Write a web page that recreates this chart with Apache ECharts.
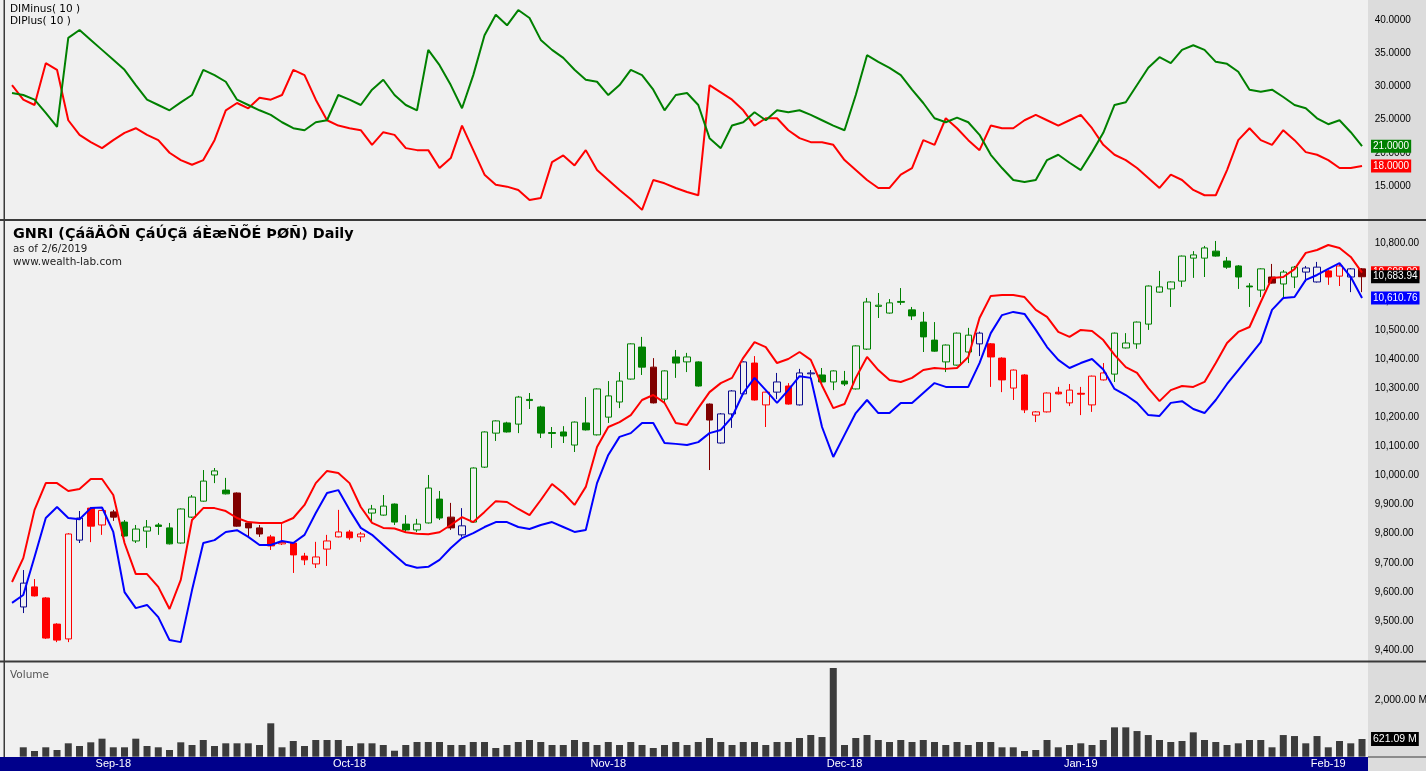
<!DOCTYPE html>
<html>
<head>
<meta charset="utf-8">
<title>GNRI Daily</title>
<script src="https://cdn.jsdelivr.net/npm/echarts/dist/echarts.min.js"></script>
<style>
html,body{margin:0;padding:0;background:#dcdcdc;overflow:hidden;}
#chart{width:1426px;height:771px;}
</style>
</head>
<body>
<div id="chart"></div>
<script>
// ---------------- DATA ----------------
const dates = [
"2018-08-13","2018-08-14","2018-08-15","2018-08-16","2018-08-26","2018-08-27","2018-08-28","2018-08-29","2018-08-30",
"2018-09-02","2018-09-03","2018-09-04","2018-09-05","2018-09-06","2018-09-09","2018-09-10","2018-09-11","2018-09-12","2018-09-13","2018-09-16","2018-09-17","2018-09-18","2018-09-19","2018-09-20","2018-09-23","2018-09-24","2018-09-25","2018-09-26","2018-09-27","2018-09-30",
"2018-10-01","2018-10-02","2018-10-03","2018-10-04","2018-10-07","2018-10-08","2018-10-09","2018-10-10","2018-10-11","2018-10-14","2018-10-15","2018-10-16","2018-10-17","2018-10-18","2018-10-21","2018-10-22","2018-10-23","2018-10-24","2018-10-25","2018-10-28","2018-10-29","2018-10-30","2018-10-31",
"2018-11-01","2018-11-04","2018-11-05","2018-11-06","2018-11-07","2018-11-08","2018-11-11","2018-11-12","2018-11-13","2018-11-14","2018-11-15","2018-11-18","2018-11-19","2018-11-20","2018-11-21","2018-11-22","2018-11-25","2018-11-26","2018-11-27","2018-11-28","2018-11-29",
"2018-12-02","2018-12-03","2018-12-04","2018-12-05","2018-12-06","2018-12-09","2018-12-10","2018-12-11","2018-12-12","2018-12-13","2018-12-16","2018-12-17","2018-12-19","2018-12-20","2018-12-23","2018-12-24","2018-12-25","2018-12-26","2018-12-27","2018-12-30","2018-12-31",
"2019-01-02","2019-01-03","2019-01-06","2019-01-07","2019-01-08","2019-01-09","2019-01-10","2019-01-13","2019-01-14","2019-01-15","2019-01-16","2019-01-17","2019-01-20","2019-01-21","2019-01-22","2019-01-23","2019-01-24","2019-01-27","2019-01-28","2019-01-29","2019-01-30","2019-01-31",
"2019-02-03","2019-02-04","2019-02-05","2019-02-06"
];

// candles (start at the 2nd date)
const opens = [9548,9617,9579,9489,9438,9778,9888,9830,9875,9840,
9775,9809,9830,9820,9768,9857,9912,10002,9950,9940,
9837,9820,9789,9765,9768,9723,9696,9747,9789,9806,
9789,9871,9864,9902,9833,9813,9837,9919,9857,9796,
9840,10029,10146,10181,10177,10262,10236,10148,10150,10105,
10181,10140,10201,10253,10332,10442,10373,10263,10408,10391,
10391,10246,10112,10212,10281,10387,10243,10287,10308,10243,
10350,10346,10322,10325,10298,10435,10582,10559,10599,10570,
10528,10466,10391,10380,10425,10453,10453,10404,10301,10346,
10208,10219,10287,10250,10283,10243,10329,10349,10439,10453,
10521,10631,10642,10669,10748,10748,10772,10738,10721,10652,
10638,10683,10659,10683,10700,10666,10704,10686,10683,10711];
const highs = [9675,9644,9582,9492,9802,9878,9892,9882,9882,9847,
9830,9847,9837,9837,9887,9933,10019,10026,9992,9942,
9840,9830,9796,9837,9770,9734,9772,9796,9882,9813,
9806,9899,9933,9904,9864,9851,10002,9947,9906,9888,
10028,10152,10190,10185,10274,10284,10240,10167,10170,10186,
10270,10300,10325,10356,10455,10477,10404,10362,10432,10422,
10393,10248,10215,10294,10393,10411,10289,10353,10318,10367,
10363,10370,10362,10360,10448,10611,10628,10607,10645,10580,
10563,10528,10451,10492,10508,10495,10456,10407,10365,10349,
10222,10286,10305,10315,10305,10344,10387,10492,10490,10530,
10654,10704,10668,10757,10772,10790,10807,10752,10724,10662,
10713,10728,10707,10721,10721,10735,10707,10731,10714,10714];
const lows = [9527,9584,9438,9427,9427,9768,9771,9796,9844,9790,
9768,9751,9796,9763,9766,9854,9910,9974,9935,9824,
9789,9789,9744,9761,9665,9692,9682,9689,9787,9779,
9772,9837,9862,9830,9806,9806,9835,9847,9813,9789,
9837,10026,10119,10148,10146,10229,10129,10095,10112,10081,
10155,10138,10181,10232,10330,10346,10248,10250,10336,10356,
10306,10019,10110,10164,10279,10258,10167,10263,10244,10241,
10336,10318,10294,10308,10296,10432,10542,10557,10587,10535,
10425,10426,10356,10378,10387,10411,10305,10287,10260,10215,
10184,10217,10279,10239,10208,10219,10327,10322,10437,10436,
10501,10629,10580,10649,10680,10683,10753,10711,10642,10580,
10614,10660,10611,10645,10666,10664,10656,10652,10631,10631];
const closes = [9630,9586,9441,9434,9799,9854,9826,9880,9857,9792,
9816,9823,9825,9765,9885,9926,9981,10016,9937,9826,
9820,9799,9758,9770,9727,9710,9720,9775,9806,9786,
9799,9885,9895,9840,9813,9833,9957,9854,9820,9827,
10026,10150,10188,10150,10270,10258,10146,10145,10136,10184,
10157,10298,10274,10325,10453,10373,10250,10360,10387,10408,
10308,10191,10212,10291,10391,10260,10287,10322,10246,10353,
10353,10322,10360,10315,10446,10597,10586,10594,10596,10549,
10477,10428,10449,10490,10483,10490,10408,10329,10363,10226,
10219,10284,10281,10294,10280,10342,10353,10490,10456,10528,
10652,10649,10666,10755,10759,10783,10755,10717,10683,10649,
10711,10662,10700,10717,10714,10717,10683,10721,10711,10683.94];
// volume in millions (same bars as candles)
const volumes = [330,200,330,235,470,375,505,632,330,330,
632,375,330,235,505,410,586,375,470,470,
470,410,1172,330,551,375,586,586,586,375,
470,470,410,210,410,515,515,515,410,410,
515,515,305,410,515,586,515,410,410,586,
515,410,515,410,515,410,305,410,515,410,
515,656,515,410,515,515,410,515,515,656,
761,690,3112,410,656,761,586,515,586,515,
586,515,410,515,410,515,515,330,330,200,
235,586,330,410,470,410,586,1030,1030,900,
760,586,515,550,855,586,515,410,470,586,
586,330,760,725,470,725,330,550,470,621.09];
// bands (one value per date)
const upperBand = [9634,
9716,9882,9974,9974,9947,9954,9988,9988,9933,9768,
9661,9661,9617,9541,9641,9847,9888,9888,9878,9854,
9840,9837,9837,9837,9854,9899,9974,10016,10009,9974,
9892,9837,9820,9818,9805,9800,9798,9805,9830,9857,
9840,9875,9912,9909,9885,9864,9916,9971,9940,9899,
9961,10098,10167,10184,10208,10260,10277,10250,10181,10174,
10232,10287,10318,10336,10405,10459,10442,10387,10401,10425,
10398,10310,10232,10246,10336,10408,10363,10329,10322,10336,
10363,10370,10367,10370,10408,10542,10618,10621,10621,10614,
10570,10546,10494,10477,10501,10497,10466,10415,10373,10353,
10301,10256,10294,10308,10305,10322,10387,10456,10494,10511,
10597,10680,10683,10710,10766,10776,10793,10783,10752,10698];
const lowerBand = [9562,
9589,9720,9854,9892,9854,9850,9888,9890,9806,9599,
9544,9555,9513,9434,9427,9606,9768,9778,9806,9812,
9789,9761,9761,9775,9768,9796,9871,9940,9950,9882,
9820,9796,9761,9727,9693,9683,9686,9710,9751,9785,
9802,9823,9840,9840,9823,9816,9830,9840,9823,9806,
9813,9974,10071,10133,10146,10181,10181,10112,10109,10105,
10115,10146,10157,10201,10284,10336,10294,10250,10294,10342,
10336,10167,10064,10140,10215,10260,10215,10215,10250,10250,
10284,10318,10305,10305,10305,10387,10490,10552,10563,10556,
10501,10442,10398,10370,10387,10401,10365,10298,10277,10250,
10208,10205,10250,10256,10229,10215,10260,10315,10363,10411,
10459,10570,10611,10614,10673,10690,10711,10731,10683,10610.76];
// directional indicators (one value per date)
const diPlus = [29.0,
28.7,28.0,26.0,23.9,37.3,38.5,37.0,35.5,34.0,32.5,
30.2,28.0,27.2,26.4,27.6,28.7,32.5,31.7,30.7,28.0,
27.2,26.4,25.7,24.6,23.7,23.4,24.6,24.9,28.7,28.0,
27.2,29.5,31.0,28.7,27.2,26.4,35.5,33.2,30.2,26.7,
31.7,37.7,40.8,39.2,41.5,40.3,37.0,35.5,34.3,32.5,
31.0,30.7,28.7,30.2,32.5,31.7,29.5,26.4,28.7,29.0,
27.2,22.2,20.7,24.1,24.6,26.1,24.9,26.4,26.1,26.4,
25.7,24.9,24.1,23.4,28.7,34.7,33.7,32.8,31.7,29.5,
27.5,25.2,24.6,25.3,24.6,22.7,19.7,17.7,15.9,15.6,
15.9,18.9,19.7,18.5,17.4,20.1,23.0,27.2,27.6,30.2,
32.8,34.4,33.5,35.5,36.2,35.5,33.7,33.4,32.2,29.5,
29.2,29.5,28.4,27.2,26.7,25.2,24.3,24.9,23.1,21.0];
const diMinus = [30.2,
28.0,27.2,33.5,32.5,24.9,22.7,21.6,20.7,21.9,23.0,
23.7,22.7,21.9,20.0,18.9,18.2,18.9,21.9,26.4,27.5,
26.7,28.3,28.0,28.7,32.5,31.7,28.0,24.9,24.1,23.7,
23.4,21.2,23.1,22.7,20.7,20.4,20.4,17.7,19.2,24.1,
20.4,16.7,15.2,14.9,14.4,12.9,13.2,18.6,19.6,18.1,
20.4,17.4,15.9,14.4,13.0,11.4,15.9,15.4,14.7,14.1,
13.6,30.2,29.1,28.0,26.4,24.1,25.2,25.2,23.4,22.2,
21.6,21.6,21.2,18.9,17.4,15.9,14.7,14.7,16.7,17.7,
21.9,21.2,25.2,23.7,21.9,20.4,24.1,23.7,23.7,24.9,
25.7,24.9,24.1,24.9,25.7,23.7,21.2,19.7,18.9,17.7,
16.2,14.7,16.7,15.9,14.4,13.6,13.6,17.4,21.9,23.7,
21.9,21.2,23.4,21.9,20.1,19.7,18.9,17.7,17.7,18.0];
const diTickRange = [15, 40];
const priceTickRange = [9400, 10800];
const volumeTickShown = [2000];
const monthNames = ["Jan","Feb","Mar","Apr","May","Jun","Jul","Aug","Sep","Oct","Nov","Dec"];
const titleText = "GNRI (\u00C7\u00E1\u00E3\u00C4\u00D4\u00D1 \u00C7\u00E1\u00DA\u00C7\u00E3 \u00E1\u00C8\u00E6\u00D1\u00D5\u00C9 \u00DE\u00D8\u00D1) Daily";

// ---------------- CHART ----------------
const N = dates.length;
const FIRST = N - opens.length;
const GREEN = '#008000', RED = '#ff0000', NAVY = '#0a0a8c', MAROON = '#800000', BG = '#f0f0f0';
const AXIS_FONT = 'Liberation Sans';
const fmt2 = v => Number(v).toLocaleString('en-US', {minimumFractionDigits: 2, maximumFractionDigits: 2});

const candleData = dates.map((d, i) => {
  const k = i - FIRST;
  if (k < 0) return ['-', '-', '-', '-'];
  const o = opens[k], c = closes[k], l = lows[k], h = highs[k];
  const up = c > o;
  let col;
  if (c > upperBand[i]) col = GREEN;
  else if (c < lowerBand[i]) col = RED;
  else col = up ? NAVY : MAROON;
  return {value: [o, c, l, h], itemStyle: {color: up ? BG : col, color0: col, borderColor: col, borderColor0: col}};
});
const volumeData = dates.map((d, i) => i < FIRST ? '-' : volumes[i - FIRST]);

const GL = 6.4, GR = 58.35;
const tag = (bg) => ({
  show: true, backgroundColor: bg, color: '#fff', fontFamily: AXIS_FONT, fontSize: 10,
  padding: [2, 2, 1, 2], distance: 9
});
const baseY = (extra) => Object.assign({
  type: 'value', position: 'right', axisLine: {show: false}, axisTick: {show: false},
  splitLine: {show: false}
}, extra);

const option = {
  animation: false,
  backgroundColor: '#dcdcdc',
  grid: [
    {left: GL, right: GR, top: 0.08, height: 219.1, outerBoundsMode: 'none', containLabel: false},
    {left: GL, right: GR, top: 213.93, height: 465.12, outerBoundsMode: 'none', containLabel: false},
    {left: GL, right: GR, top: 662.65, height: 94.05, outerBoundsMode: 'none', containLabel: false}
  ],
  xAxis: [0, 1, 2].map(g => ({
    type: 'category', gridIndex: g, data: dates, boundaryGap: true,
    axisLine: {show: false}, axisTick: {show: false}, splitLine: {show: false},
    axisLabel: g === 2 ? {
      show: true, color: '#ffffff', fontFamily: AXIS_FONT, fontSize: 11, margin: 2,
      interval: (idx, val) => idx > 0 && val.slice(0, 7) !== dates[idx - 1].slice(0, 7),
      formatter: val => monthNames[parseInt(val.slice(5, 7), 10) - 1] + '-' + val.slice(2, 4),
      hideOverlap: false
    } : {show: false}
  })),
  yAxis: [
    baseY({gridIndex: 0, min: 10, max: 43, interval: 5,
      axisLabel: {margin: 7, color: '#000', fontFamily: AXIS_FONT, fontSize: 10,
        formatter: v => (v >= diTickRange[0] && v <= diTickRange[1]) ? v.toFixed(4) : ''}}),
    baseY({gridIndex: 1, min: 9300, max: 10900, interval: 100,
      axisLabel: {margin: 7, color: '#000', fontFamily: AXIS_FONT, fontSize: 10,
        formatter: v => (v >= priceTickRange[0] && v <= priceTickRange[1]) ? fmt2(v) : ''}}),
    baseY({gridIndex: 2, min: 0, max: 3300, interval: 1000,
      axisLabel: {margin: 7, color: '#000', fontFamily: AXIS_FONT, fontSize: 10.5,
        formatter: v => volumeTickShown.indexOf(v) >= 0 ? fmt2(v) + ' M' : ''}})
  ],
  series: [
    {
      name: 'Volume', type: 'bar', xAxisIndex: 2, yAxisIndex: 2, data: volumeData,
      barWidth: 7, itemStyle: {color: '#3c3c3c'}, z: 2,
      markPoint: {
        symbol: 'rect', symbolSize: 0, z: 6,
        data: [{coord: [dates[N - 1], volumes[volumes.length - 1]]}],
        label: Object.assign(tag('#000'), {position: 'right', fontSize: 10.5,
          formatter: () => fmt2(volumes[volumes.length - 1]) + ' M'})
      }
    },
    {
      name: 'GNRI', type: 'candlestick', xAxisIndex: 1, yAxisIndex: 1, data: candleData,
      barWidth: 7, z: 2, itemStyle: {borderWidth: 1}
    },
    {
      name: 'Upper', type: 'line', xAxisIndex: 1, yAxisIndex: 1, data: upperBand,
      symbol: 'none', lineStyle: {color: RED, width: 2}, itemStyle: {color: RED}, z: 3,
      endLabel: Object.assign(tag(RED), {formatter: p => fmt2(p.value)})
    },
    {
      name: 'Lower', type: 'line', xAxisIndex: 1, yAxisIndex: 1, data: lowerBand,
      symbol: 'none', lineStyle: {color: '#0000ff', width: 2}, itemStyle: {color: '#0000ff'}, z: 3,
      endLabel: Object.assign(tag('#0000ff'), {formatter: p => fmt2(p.value)}),
      markPoint: {
        symbol: 'rect', symbolSize: 0, z: 6,
        data: [{coord: [dates[N - 1], closes[closes.length - 1]]}],
        label: Object.assign(tag('#000'), {position: 'right',
          formatter: () => fmt2(closes[closes.length - 1])})
      }
    },
    {
      name: 'DIMinus', type: 'line', xAxisIndex: 0, yAxisIndex: 0, data: diMinus,
      symbol: 'none', lineStyle: {color: RED, width: 2}, itemStyle: {color: RED}, z: 3,
      endLabel: Object.assign(tag(RED), {formatter: p => Number(p.value).toFixed(4)})
    },
    {
      name: 'DIPlus', type: 'line', xAxisIndex: 0, yAxisIndex: 0, data: diPlus,
      symbol: 'none', lineStyle: {color: GREEN, width: 2}, itemStyle: {color: GREEN}, z: 4,
      endLabel: Object.assign(tag(GREEN), {formatter: p => Number(p.value).toFixed(4)})
    }
  ],
  graphic: [
    {type: 'rect', z: -20, silent: true, shape: {x: 0, y: 0, width: 1368, height: 771}, style: {fill: BG}},
    {type: 'rect', z: -15, silent: true, shape: {x: 0, y: 757, width: 1368, height: 14}, style: {fill: '#00008b'}},
    {type: 'rect', z: 50, silent: true, shape: {x: 0, y: 219, width: 1426, height: 2}, style: {fill: '#3a3a3a'}},
    {type: 'rect', z: 50, silent: true, shape: {x: 0, y: 660.5, width: 1426, height: 2}, style: {fill: '#3a3a3a'}},
    {type: 'rect', z: 50, silent: true, shape: {x: 1368, y: 756.5, width: 58, height: 1}, style: {fill: '#3a3a3a'}},
    {type: 'rect', z: 50, silent: true, shape: {x: 3.5, y: 0, width: 1.5, height: 757}, style: {fill: '#3a3a3a'}},
    {type: 'text', z: 50, silent: true, x: 10, y: 9, style: {text: 'DIMinus( 10 )', fontFamily: 'DejaVu Sans', fontSize: 10.5, fill: '#000', verticalAlign: 'middle'}},
    {type: 'text', z: 50, silent: true, x: 10, y: 21, style: {text: 'DIPlus( 10 )', fontFamily: 'DejaVu Sans', fontSize: 10.5, fill: '#000', verticalAlign: 'middle'}},
    {type: 'text', z: 50, silent: true, x: 13, y: 234, style: {text: titleText, fontFamily: 'DejaVu Sans', fontWeight: 'bold', fontSize: 14.4, fill: '#000', verticalAlign: 'middle'}},
    {type: 'text', z: 50, silent: true, x: 13, y: 249, style: {text: 'as of 2/6/2019', fontFamily: 'DejaVu Sans', fontSize: 10.3, fill: '#222', verticalAlign: 'middle'}},
    {type: 'text', z: 50, silent: true, x: 13, y: 262, style: {text: 'www.wealth-lab.com', fontFamily: 'DejaVu Sans', fontSize: 10.5, fill: '#222', verticalAlign: 'middle'}},
    {type: 'text', z: 50, silent: true, x: 10, y: 675, style: {text: 'Volume', fontFamily: 'DejaVu Sans', fontSize: 10.5, fill: '#555', verticalAlign: 'middle'}}
  ]
};

const chart = echarts.init(document.getElementById('chart'), null, {renderer: 'canvas', width: 1426, height: 771});
chart.setOption(option);
</script>
</body>
</html>
